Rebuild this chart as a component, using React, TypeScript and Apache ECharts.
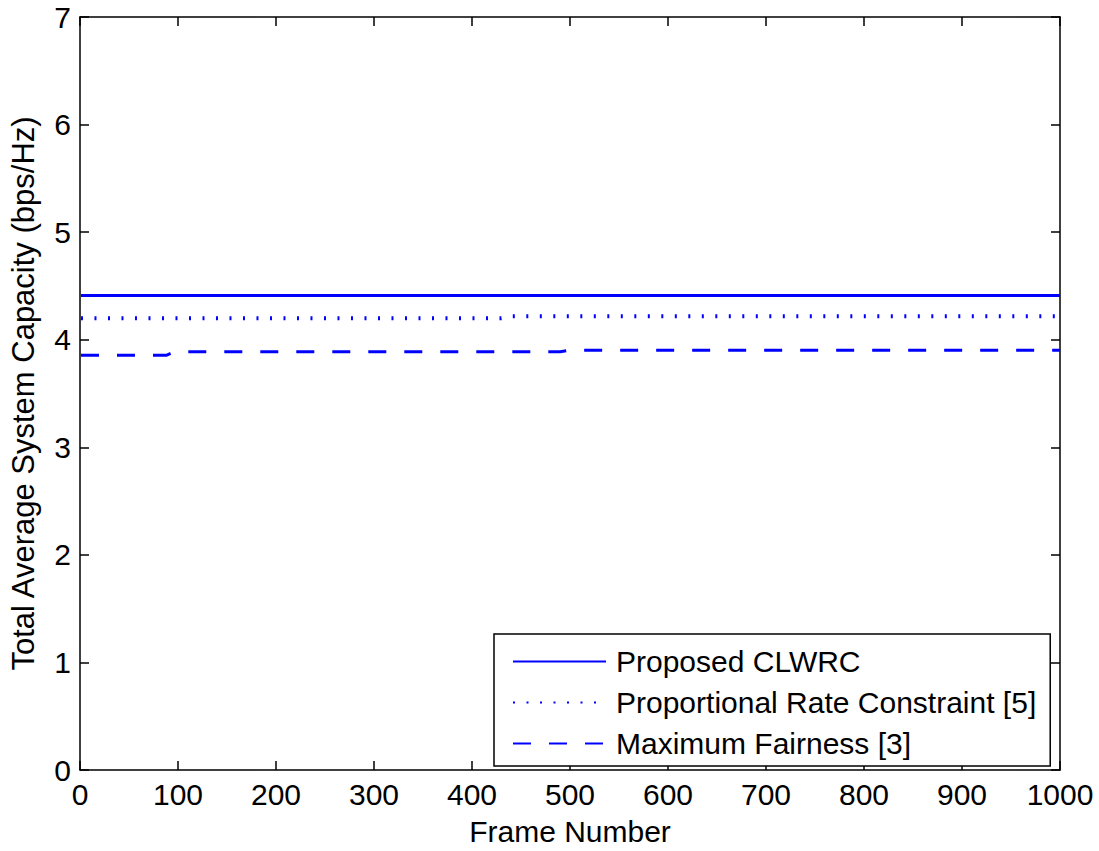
import React, { useEffect, useRef } from "react";
import * as echarts from "echarts";

const frames = [1, 50, 88, 92, 97, 150, 200, 250, 300, 350, 400, 430, 440, 490, 500, 550, 600, 650, 700, 750, 800, 850, 900, 950, 1000];
const proposedCLWRC = [4.41, 4.41, 4.41, 4.41, 4.41, 4.41, 4.41, 4.41, 4.41, 4.41, 4.41, 4.41, 4.41, 4.41, 4.41, 4.41, 4.41, 4.41, 4.41, 4.41, 4.41, 4.41, 4.41, 4.41, 4.41];
const proportionalRate = [4.2, 4.2, 4.2, 4.2, 4.2, 4.2, 4.2, 4.2, 4.2, 4.2, 4.2, 4.2, 4.217, 4.217, 4.217, 4.217, 4.217, 4.217, 4.217, 4.217, 4.217, 4.217, 4.217, 4.217, 4.217];
const maxFairness = [3.855, 3.855, 3.855, 3.87, 3.888, 3.888, 3.888, 3.888, 3.888, 3.888, 3.888, 3.888, 3.888, 3.888, 3.903, 3.903, 3.903, 3.903, 3.903, 3.903, 3.903, 3.903, 3.903, 3.903, 3.903];

const seriesNames = ["Proposed CLWRC", "Proportional Rate Constraint [5]", "Maximum Fairness [3]"];
const xTicks = { min: 0, max: 1000, interval: 100 };
const yTicks = { min: 0, max: 7, interval: 1 };

const FONT = "'Liberation Sans', Arial, Helvetica, sans-serif";
const BLUE = "#0000ff";
const FS = 30;

export default function App() {
  const ref = useRef<HTMLDivElement>(null);
  useEffect(() => {
    if (!ref.current) return;
    const chart = echarts.init(ref.current, undefined, { renderer: "svg" });
    const axisCommon = {
      axisLine: { show: true, onZero: false, lineStyle: { color: "#000", width: 1.5 } },
      axisTick: { show: true, inside: true, length: 9, lineStyle: { color: "#000", width: 1.5 } },
      splitLine: { show: false },
    };
    const mk = (vals: number[]) => frames.map((f, i) => [f, vals[i]]);
    chart.setOption({
      animation: false,
      backgroundColor: "#fff",
      textStyle: { fontFamily: FONT },
      grid: { left: 80, top: 17, width: 980, height: 758, containLabel: false },
      xAxis: [
        {
          type: "value",
          position: "bottom",
          ...xTicks,
          ...axisCommon,
          axisLabel: { color: "#000", fontSize: FS, fontFamily: FONT, margin: 9, formatter: (v: number) => String(v) },
          name: "Frame Number",
          nameLocation: "middle",
          nameGap: 46,
          nameTextStyle: { color: "#000", fontSize: FS, fontFamily: FONT },
        },
        {
          type: "value",
          position: "top",
          ...xTicks,
          ...axisCommon,
          axisLabel: { show: false },
        },
      ],
      yAxis: [
        {
          type: "value",
          position: "left",
          ...yTicks,
          ...axisCommon,
          axisLabel: { color: "#000", fontSize: FS, fontFamily: FONT, margin: 9 },
          name: "Total Average System Capacity (bps/Hz)",
          nameLocation: "middle",
          nameGap: 41,
          nameTextStyle: { color: "#000", fontSize: 31, fontFamily: FONT },
        },
        {
          type: "value",
          position: "right",
          ...yTicks,
          ...axisCommon,
          axisLabel: { show: false },
        },
      ],
      legend: {
        orient: "vertical",
        left: 494,
        top: 634,
        padding: [11, 14, 6, 18],
        itemWidth: 93,
        itemHeight: 14,
        itemGap: 8,
        borderColor: "#000",
        borderWidth: 1.5,
        backgroundColor: "#fff",
        itemStyle: { color: "transparent", borderWidth: 0, opacity: 0 },
        textStyle: { color: "#000", fontSize: FS, fontFamily: FONT, padding: [0, 0, 0, 5], lineHeight: 33 },
        data: seriesNames,
      },
      series: [
        {
          name: seriesNames[0],
          type: "line",
          data: mk(proposedCLWRC),
          symbol: "none",
          color: BLUE,
          lineStyle: { color: BLUE, width: 3, type: "solid" },
        },
        {
          name: seriesNames[1],
          type: "line",
          data: mk(proportionalRate),
          symbol: "none",
          color: BLUE,
          lineStyle: { color: BLUE, width: 4, type: [2, 11.5], cap: "butt" },
        },
        {
          name: seriesNames[2],
          type: "line",
          data: mk(maxFairness),
          symbol: "none",
          color: BLUE,
          lineStyle: { color: BLUE, width: 3, type: [18, 18], cap: "butt" },
        },
      ],
    });
    return () => chart.dispose();
  }, []);
  return <div ref={ref} style={{ position: "absolute", left: 0, top: 0, width: 1099, height: 851 }} />;
}
